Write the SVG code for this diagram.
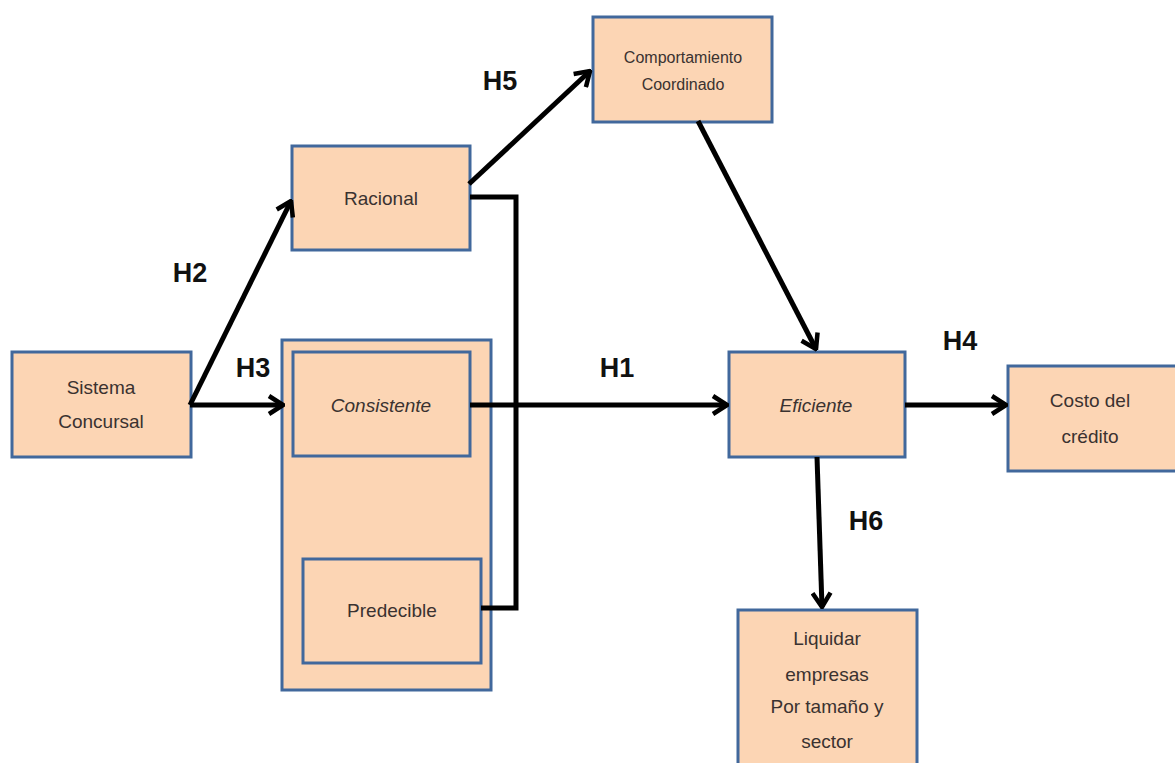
<svg xmlns="http://www.w3.org/2000/svg" width="1175" height="763" viewBox="0 0 1175 763">
<style>
.box{fill:#FCD5B4;stroke:#41689C;stroke-width:3}
.t{font-family:"Liberation Sans Narrow","Liberation Sans",Arial,sans-serif;font-size:19px;fill:#3a3230;text-anchor:middle}
.it{font-style:italic}
.h{font-family:"Liberation Sans Narrow","Liberation Sans",Arial,sans-serif;font-size:27px;font-weight:bold;fill:#111;text-anchor:middle}
.c{fill:none;stroke:#000;stroke-width:5;stroke-linejoin:miter}
</style>
<defs>
<marker id="arr" viewBox="-16 -11 18 22" refX="0" refY="0" markerWidth="18" markerHeight="22" orient="auto" markerUnits="userSpaceOnUse">
<polyline points="-14,-9 0,0 -14,9" fill="none" stroke="#000" stroke-width="4.5" stroke-linejoin="miter"/>
</marker>
</defs>
<g id="sistema">
<rect class="box" x="12" y="352" width="179" height="105"/>
<text class="t" x="101" y="394">Sistema</text>
<text class="t" x="101" y="428">Concursal</text>
</g>
<g id="racional">
<rect class="box" x="292" y="146" width="178" height="104"/>
<text class="t" x="381" y="205">Racional</text>
</g>
<g id="comportamiento">
<rect class="box" x="593" y="17" width="179" height="105"/>
<text class="t" x="683" y="63" style="font-size:16px">Comportamiento</text>
<text class="t" x="683" y="90" style="font-size:16px">Coordinado</text>
</g>
<g id="grupo">
<rect class="box" x="282" y="340" width="209" height="350"/>
</g>
<g id="consistente">
<rect class="box" x="293" y="352" width="177" height="104"/>
<text class="t it" x="381" y="412">Consistente</text>
</g>
<g id="predecible">
<rect class="box" x="303" y="559" width="178" height="104"/>
<text class="t" x="392" y="617">Predecible</text>
</g>
<g id="eficiente">
<rect class="box" x="729" y="352" width="176" height="105"/>
<text class="t it" x="816" y="412">Eficiente</text>
</g>
<g id="costo">
<rect class="box" x="1008" y="366" width="170" height="105"/>
<text class="t" x="1090" y="407">Costo del</text>
<text class="t" x="1090" y="443">crédito</text>
</g>
<g id="liquidar">
<rect class="box" x="738" y="610" width="179" height="160"/>
<text class="t" x="827" y="645">Liquidar</text>
<text class="t" x="827" y="681">empresas</text>
<text class="t" x="827" y="713">Por tamaño y</text>
<text class="t" x="827" y="748">sector</text>
</g>
<g id="connectors">
<line class="c" x1="190" y1="405" x2="291" y2="201" marker-end="url(#arr)"/>
<line class="c" x1="190" y1="405" x2="283" y2="405" marker-end="url(#arr)"/>
<line class="c" x1="470" y1="405" x2="727" y2="405" marker-end="url(#arr)"/>
<line class="c" x1="469" y1="184" x2="590" y2="71" marker-end="url(#arr)"/>
<polyline class="c" points="470,197 516,197 516,608 481,608"/>
<line class="c" x1="698" y1="121" x2="816" y2="349" marker-end="url(#arr)"/>
<line class="c" x1="905" y1="405" x2="1006" y2="405" marker-end="url(#arr)"/>
<line class="c" x1="817" y1="457" x2="822" y2="607" marker-end="url(#arr)"/>
</g>
<g id="labels">
<text class="h" x="500" y="90">H5</text>
<text class="h" x="190" y="282">H2</text>
<text class="h" x="253" y="377">H3</text>
<text class="h" x="617" y="377">H1</text>
<text class="h" x="960" y="350">H4</text>
<text class="h" x="866" y="530">H6</text>
</g>
</svg>
